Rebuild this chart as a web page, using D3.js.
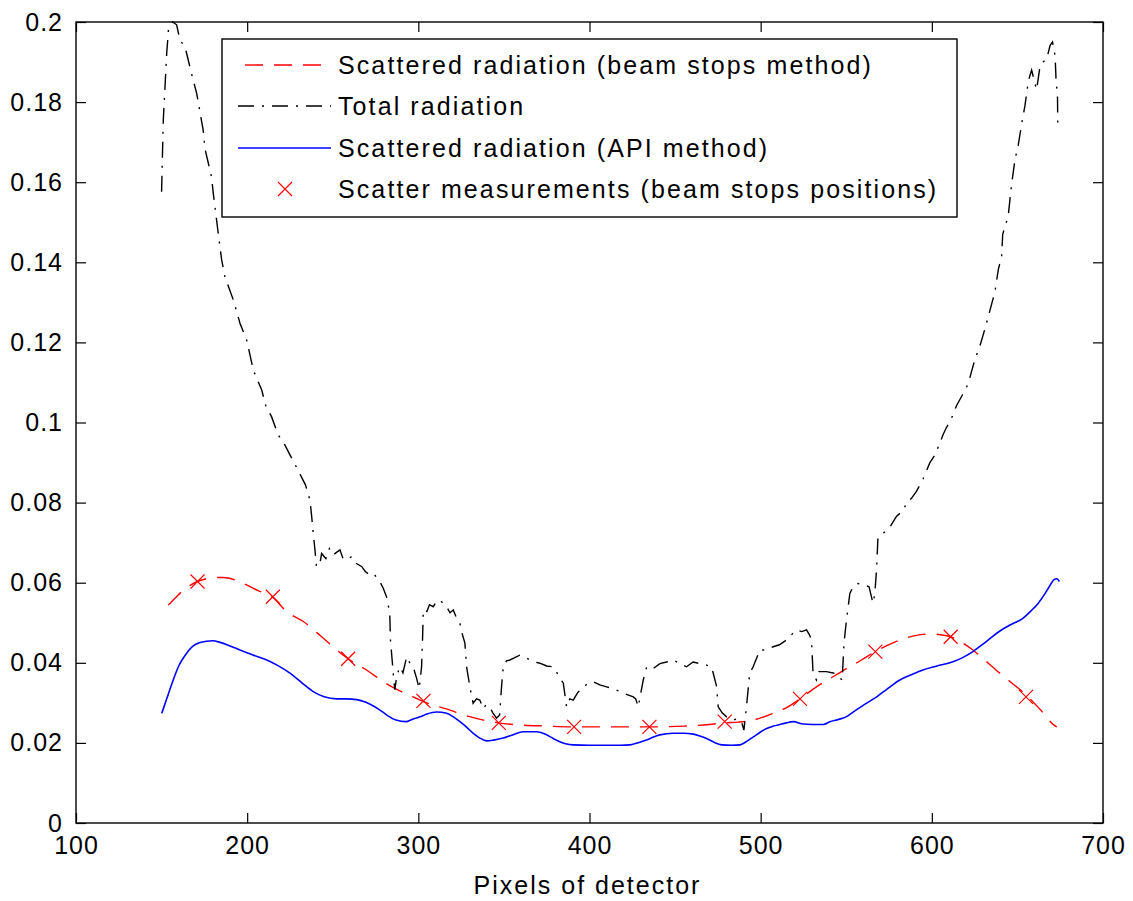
<!DOCTYPE html>
<html>
<head>
<meta charset="utf-8">
<script src="https://cdn.jsdelivr.net/npm/d3@7"></script>
<style>
  html, body { margin: 0; padding: 0; background: #fff; }
  svg { display: block; }
  text { font-family: "Liberation Sans", Arial, Helvetica, sans-serif; fill: #000; }
</style>
</head>
<body>
<div id="chart"></div>
<script>
// ---------------- data ----------------
const xTicks = [100, 200, 300, 400, 500, 600, 700];
const yTicks = [0, 0.02, 0.04, 0.06, 0.08, 0.1, 0.12, 0.14, 0.16, 0.18, 0.2];
const xLabel = "Pixels of detector";
const legendLabels = [
  "Scattered radiation (beam stops method)",
  "Total radiation",
  "Scattered radiation (API method)",
  "Scatter measurements (beam stops positions)"
];

// Total radiation (black dash-dot)
const totalPixels = [150,151,153,154,156.5,158.8,160.7,163.7,167.5,170.5,174.3,175.3,179.2,180.2,183.1,185.1,187,191.9,195.8,199.7,203.6,208.5,211,214.3,218,222,225,228,231,234,236.7,237.7,238.6,239.6,240.5,242.5,243.5,246,248,250.3,252,254.2,256,258.1,261,263.9,267,269,271.7,274,277.6,279.5,281.4,283.3,283.7,284.7,285.5,286.3,287.5,289.3,291,293.2,295,297,299,300.5,301.9,302.5,302.9,305,306.5,308.7,310.5,312.6,314.5,316.5,318.5,320.4,322.5,324.3,325.8,327.2,328.2,330.1,332,334,335.9,338,339.5,341.8,343.5,345.7,347.5,348.6,349.6,351.5,353.5,356,359.3,362,365.2,368,371,375,378.8,381,384.7,386.6,388.5,390.5,393,396.4,399,402.2,406,410,414,417.8,421,425.6,427,428.5,430,431.4,433.4,437,441.1,445,448.9,452,456.7,460.5,464.5,468,471.3,472.3,474.3,475.2,477.5,480.1,482,484,486,488.8,490.2,491.7,493.6,495.6,497.5,499.5,503,507.3,511,515.1,518,520.9,524,526.8,528.5,529.7,530.6,532.6,534,538.4,543.1,545.5,547.6,548.7,549.9,552.1,554,556.6,560,563.3,565.6,566.7,567.8,568.5,570,572,575.5,579.4,583.5,585.2,588,591,595,598.8,602,606.6,608.6,611,614.4,618,621.2,625.2,628,630.1,633,636.9,638.8,640.8,641.4,644.6,646.6,648.6,650.5,652.5,654.4,656.4,658.3,661.2,663.2,665,667.1,669.1,670.5,672,672.6,673.4,673.6];
const totalValues = [0.1576,0.1755,0.1922,0.198,0.2,0.1993,0.1955,0.1938,0.1871,0.1822,0.173,0.1684,0.1613,0.1572,0.1472,0.1406,0.1364,0.1306,0.1248,0.1206,0.1131,0.1081,0.104,0.1014,0.097,0.0944,0.0919,0.0895,0.087,0.0845,0.0806,0.0765,0.0723,0.0682,0.064,0.0648,0.0673,0.066,0.0685,0.0669,0.0675,0.0682,0.066,0.0657,0.0665,0.0648,0.064,0.0628,0.0619,0.0622,0.0602,0.0586,0.0565,0.0524,0.0457,0.0407,0.0365,0.0333,0.037,0.039,0.0375,0.0415,0.04,0.039,0.0361,0.0335,0.039,0.0465,0.0532,0.0528,0.0545,0.054,0.0552,0.0557,0.0548,0.054,0.0525,0.0532,0.051,0.0498,0.047,0.0449,0.039,0.034,0.0299,0.031,0.0307,0.0285,0.0295,0.029,0.0275,0.0262,0.027,0.034,0.039,0.0405,0.0407,0.0412,0.0419,0.0415,0.0407,0.0402,0.0399,0.0392,0.039,0.0375,0.0349,0.029,0.031,0.0307,0.0325,0.034,0.0348,0.0353,0.0345,0.034,0.0335,0.0328,0.0322,0.0315,0.031,0.029,0.0325,0.0357,0.039,0.0385,0.0398,0.0402,0.0407,0.04,0.039,0.0402,0.0398,0.0395,0.039,0.0374,0.034,0.029,0.0275,0.0265,0.0262,0.0257,0.026,0.0253,0.0232,0.029,0.0374,0.039,0.041,0.0432,0.0432,0.044,0.0445,0.0457,0.047,0.0482,0.0478,0.0482,0.047,0.0457,0.0374,0.0357,0.0378,0.0378,0.0374,0.0365,0.0357,0.0449,0.0498,0.0573,0.059,0.0598,0.0595,0.059,0.0549,0.0573,0.064,0.0712,0.072,0.0725,0.0739,0.0766,0.0781,0.0801,0.081,0.0828,0.086,0.0899,0.092,0.097,0.0988,0.1005,0.1042,0.107,0.1096,0.1158,0.119,0.122,0.1265,0.1327,0.1381,0.1416,0.147,0.1515,0.1595,0.1657,0.1693,0.1746,0.1791,0.1853,0.188,0.1831,0.1889,0.19,0.1907,0.1942,0.195,0.1916,0.1853,0.1818,0.1738];

// Scattered radiation, beam stops method (red dashed)
const beamPixels = [153.9,158,164.7,171,176,181,186,192.9,199,205.5,215,223,232.8,243.5,252.3,259,269.7,279.5,286.3,297,303,318.5,326.3,338,347,355.4,374.9,391,410,435,455,470,479,487,495.6,507.3,515.1,523,532.6,541,549.9,558.9,567,579,590.3,599.3,605,611,617,624,630,637.5,646,655,663,671.2,673];
const beamValues = [0.0544,0.0562,0.0588,0.0603,0.061,0.0613,0.0613,0.0607,0.0596,0.0582,0.0563,0.0528,0.0503,0.0465,0.0432,0.041,0.0382,0.0353,0.0336,0.0315,0.0303,0.0282,0.027,0.0257,0.025,0.0246,0.0242,0.024,0.024,0.024,0.0242,0.0246,0.025,0.0252,0.0257,0.0274,0.0288,0.031,0.034,0.0362,0.0385,0.0407,0.0428,0.0453,0.0468,0.0472,0.047,0.0465,0.0452,0.0432,0.041,0.0382,0.0352,0.032,0.0285,0.0245,0.024];

// Scattered radiation, API method (blue solid)
const apiPixels = [150.1,153,156.8,160,164,168.5,172,176.3,180,184.1,190,195.8,203,211.4,218,225,232,238.6,245,252.3,258,264,269,273.7,277.6,282,286.9,292.9,296,300.9,305,310.7,316.5,320.5,324.3,328,332.1,336,339.9,344,349.6,355,361.3,369.1,374,378.8,382.7,386,390.5,400,410,418,423.6,428,433.3,437,441.1,448.9,455,460.6,464.5,468.4,472.5,477.2,483,487.9,491.5,495.7,499.5,503.5,507.5,511.2,515,519,524.9,530,536.6,540.4,545,549.9,555,561,567.8,574,581.3,588,594.8,603,612.7,618,624,630,635.2,640,646,653.2,658,662.2,666,669,671.2,673,674.5];
const apiValues = [0.0274,0.031,0.0357,0.0392,0.042,0.0442,0.045,0.0454,0.0455,0.0451,0.0442,0.0432,0.042,0.0407,0.0393,0.0374,0.035,0.0328,0.0315,0.031,0.031,0.0308,0.0302,0.0292,0.0282,0.0268,0.0257,0.0253,0.0258,0.0265,0.0272,0.0277,0.0274,0.0265,0.0253,0.024,0.0224,0.0212,0.0205,0.0207,0.0212,0.022,0.0228,0.0228,0.0222,0.0211,0.0203,0.0198,0.0195,0.0194,0.0194,0.0194,0.0195,0.02,0.0207,0.0214,0.022,0.0224,0.0224,0.0222,0.0217,0.0211,0.0202,0.0195,0.0194,0.0195,0.0203,0.0215,0.0226,0.0236,0.0242,0.0246,0.025,0.0253,0.0247,0.0246,0.0246,0.0253,0.0258,0.0265,0.028,0.0297,0.0315,0.0335,0.0357,0.037,0.0382,0.0392,0.0403,0.0413,0.0428,0.0447,0.0465,0.048,0.0495,0.0511,0.053,0.0549,0.0572,0.0593,0.0607,0.061,0.0603];

// Scatter measurements (red x markers)
const markerPixels = [171, 215, 259, 303, 347, 391, 435, 479, 523, 567, 611, 655];
const markerValues = [0.0603, 0.0565, 0.041, 0.0305, 0.025, 0.024, 0.024, 0.0253, 0.031, 0.0428, 0.0465, 0.0315];

// ---------------- layout ----------------
const W = 1133, H = 901;
const plot = { left: 76, top: 22, right: 1103, bottom: 823 };

const svg = d3.select("#chart").append("svg")
  .attr("width", W).attr("height", H)
  .attr("viewBox", `0 0 ${W} ${H}`);

svg.append("rect").attr("width", W).attr("height", H).attr("fill", "#fff");

const x = d3.scaleLinear().domain([100, 700]).range([plot.left, plot.right]);
const y = d3.scaleLinear().domain([0, 0.2]).range([plot.bottom, plot.top]);

const fmtY = d => d === 0 ? "0" : String(+d.toFixed(2));

// clip
svg.append("clipPath").attr("id", "clip").append("rect")
  .attr("x", plot.left).attr("y", plot.top - 2)
  .attr("width", plot.right - plot.left).attr("height", plot.bottom - plot.top + 2);

const g = svg.append("g").attr("clip-path", "url(#clip)");

const toPts = (xs, ys) => xs.map((v, i) => [v, ys[i]]);

const lineLin = d3.line().x(d => x(d[0])).y(d => y(d[1]));
const lineSmooth = d3.line().x(d => x(d[0])).y(d => y(d[1])).curve(d3.curveMonotoneX);

// red dashed
g.append("path").datum(toPts(beamPixels, beamValues))
  .attr("d", lineSmooth).attr("fill", "none")
  .attr("stroke", "#ff0000").attr("stroke-width", 1.4)
  .attr("stroke-dasharray", "18,11");

// black dash-dot
g.append("path").datum(toPts(totalPixels, totalValues))
  .attr("d", lineLin).attr("fill", "none")
  .attr("stroke", "#000").attr("stroke-width", 1.4)
  .attr("stroke-dasharray", "16,8,2,8");

// blue solid
g.append("path").datum(toPts(apiPixels, apiValues))
  .attr("d", lineSmooth).attr("fill", "none")
  .attr("stroke", "#0000ff").attr("stroke-width", 1.6);

// markers
const mk = 7;
const markers = g.append("g").selectAll("path").data(toPts(markerPixels, markerValues)).join("path")
  .attr("d", d => {
    const cx = x(d[0]), cy = y(d[1]);
    return `M${cx - mk},${cy - mk}L${cx + mk},${cy + mk}M${cx - mk},${cy + mk}L${cx + mk},${cy - mk}`;
  })
  .attr("stroke", "#ff0000").attr("stroke-width", 1.2).attr("fill", "none");

// ---------------- axes ----------------
const tickLen = 10;
const labelFont = "25px";

const axB = svg.append("g").attr("transform", `translate(0,${plot.bottom})`)
  .call(d3.axisBottom(x).tickValues(xTicks).tickSizeInner(-tickLen).tickSizeOuter(0).tickPadding(13).tickFormat(d3.format("d")));
const axL = svg.append("g").attr("transform", `translate(${plot.left},0)`)
  .call(d3.axisLeft(y).tickValues(yTicks).tickSizeInner(-tickLen).tickSizeOuter(0).tickPadding(13).tickFormat(fmtY));
const axT = svg.append("g").attr("transform", `translate(0,${plot.top})`)
  .call(d3.axisTop(x).tickValues(xTicks).tickSizeInner(-tickLen).tickSizeOuter(0).tickFormat(""));
const axR = svg.append("g").attr("transform", `translate(${plot.right},0)`)
  .call(d3.axisRight(y).tickValues(yTicks).tickSizeInner(-tickLen).tickSizeOuter(0).tickFormat(""));

[axB, axL, axT, axR].forEach(a => {
  a.select(".domain").remove();
  a.selectAll(".tick line").attr("stroke", "#000").attr("stroke-width", 1.2);
  a.selectAll(".tick text")
    .attr("font-family", "'Liberation Sans', Arial, sans-serif")
    .attr("font-size", labelFont).attr("fill", "#000")
    .style("letter-spacing", "1px");
});

// box
svg.append("rect")
  .attr("x", plot.left).attr("y", plot.top)
  .attr("width", plot.right - plot.left).attr("height", plot.bottom - plot.top)
  .attr("fill", "none").attr("stroke", "#000").attr("stroke-width", 1.4);

// x label
svg.append("text")
  .attr("x", (plot.left + plot.right) / 2 - 2).attr("y", 894)
  .attr("text-anchor", "middle")
  .attr("font-size", labelFont)
  .style("letter-spacing", "2px")
  .text(xLabel);

// ---------------- legend ----------------
const leg = { x0: 222, y0: 39, x1: 957, y1: 217 };
const legRowY = [65, 106, 148, 189];
const sample = { x0: 238, x1: 331, textX: 338 };

const lg = svg.append("g");
lg.append("rect")
  .attr("x", leg.x0).attr("y", leg.y0)
  .attr("width", leg.x1 - leg.x0).attr("height", leg.y1 - leg.y0)
  .attr("fill", "#fff").attr("stroke", "#000").attr("stroke-width", 1.4);

// entry 1: red dashed
lg.append("line").attr("x1", 245).attr("x2", sample.x1).attr("y1", legRowY[0]).attr("y2", legRowY[0])
  .attr("stroke", "#ff0000").attr("stroke-width", 1.4).attr("stroke-dasharray", "18,11");
// entry 2: black dash-dot
lg.append("line").attr("x1", sample.x0).attr("x2", sample.x1).attr("y1", legRowY[1]).attr("y2", legRowY[1])
  .attr("stroke", "#000").attr("stroke-width", 1.4).attr("stroke-dasharray", "16,8,2,8");
// entry 3: blue solid
lg.append("line").attr("x1", sample.x0).attr("x2", sample.x1).attr("y1", legRowY[2]).attr("y2", legRowY[2])
  .attr("stroke", "#0000ff").attr("stroke-width", 1.6);
// entry 4: red x
{
  const cx = 285, cy = legRowY[3];
  lg.append("path")
    .attr("d", `M${cx - mk},${cy - mk}L${cx + mk},${cy + mk}M${cx - mk},${cy + mk}L${cx + mk},${cy - mk}`)
    .attr("stroke", "#ff0000").attr("stroke-width", 1.2).attr("fill", "none");
}

lg.selectAll("text.leg").data(legendLabels).join("text")
  .attr("class", "leg")
  .attr("x", sample.textX).attr("y", (d, i) => legRowY[i])
  .attr("dy", "0.36em")
  .attr("font-size", labelFont)
  .style("letter-spacing", "2.1px")
  .text(d => d);
</script>
</body>
</html>
